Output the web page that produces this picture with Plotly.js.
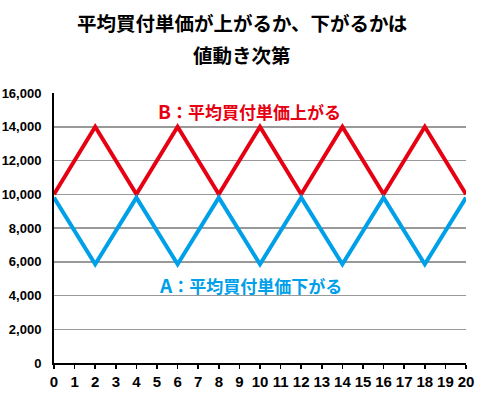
<!DOCTYPE html>
<html><head><meta charset="utf-8">
<script src="https://cdn.plot.ly/plotly-3.0.1.min.js"></script>
<style>html,body{margin:0;padding:0;background:#fff}</style>
</head><body><div id="chart" style="width:499px;height:396px"></div>
<script>
const xs = [0,1,2,3,4,5,6,7,8,9,10,11,12,13,14,15,16,17,18,19,20];
const bX = [0,2,4,6,8,10,12,14,16,18,20];
const bY = [10000,14000,10000,14000,10000,14000,10000,14000,10000,14000,10000];
const aX = [0,2,4,6,8,10,12,14,16,18,20];
const aY = [9800,5850,9800,5850,9800,5850,9800,5850,9800,5850,9800];
const yTicks = [0,2000,4000,6000,8000,10000,12000,14000,16000];
const yTickText = ['0','2,000','4,000','6,000','8,000','10,000','12,000','14,000','16,000'];
const titleLines = ['平均買付単価が上がるか、下がるかは','値動き次第'];
const labelB = '<span style="font-size:19px">B</span>：平均買付単価上がる';
const labelA = '<span style="font-size:19px">A</span>：平均買付単価下がる';

const cjk = '"Noto Sans CJK JP", "Noto Sans", sans-serif';
const num = '"Liberation Sans Narrow", "Liberation Sans", Arial, sans-serif';

const traces = [
  {x:bX, y:bY, mode:'lines', line:{color:'#e60012', width:4}, hoverinfo:'skip'},
  {x:aX, y:aY, mode:'lines', line:{color:'#00a0e9', width:4}, hoverinfo:'skip'}
];
const layout = {
  width:499, height:396,
  margin:{l:54, r:33, t:93, b:33},
  showlegend:false,
  paper_bgcolor:'#fff', plot_bgcolor:'#fff',
  xaxis:{range:[0,20], tickvals:xs, ticktext:xs.map(String), tickangle:0, showgrid:false, zeroline:false,
    showline:true, linecolor:'#000', linewidth:2, ticks:'outside', ticklen:4, tickwidth:1.5, tickcolor:'#000',
    tickfont:{family:num, size:15, color:'#000', weight:'bold'}, fixedrange:true},
  yaxis:{range:[0,16000], tickvals:yTicks, ticktext:yTickText, showgrid:true, gridcolor:'#999', gridwidth:1.5,
    zeroline:false, showline:true, linecolor:'#000', linewidth:2, ticks:'', ticklabelstandoff:8,
    tickfont:{family:num, size:13, color:'#000', weight:'bold'}, fixedrange:true},
  annotations:[
    {xref:'paper', yref:'paper', x:(242-54)/412, y:1+(93-22)/270.6, text:titleLines[0], showarrow:false,
     font:{family:cjk, size:19.5, color:'#000', weight:'bold'}, xanchor:'center', yanchor:'middle'},
    {xref:'paper', yref:'paper', x:(242-54)/412, y:1+(93-54)/270.6, text:titleLines[1], showarrow:false,
     font:{family:cjk, size:19.5, color:'#000', weight:'bold'}, xanchor:'center', yanchor:'middle'},
    {x:9.5, y:14950, text:labelB, showarrow:false, font:{family:cjk, size:17, color:'#e60012', weight:'bold'}},
    {x:9.55, y:4630, text:labelA, showarrow:false, font:{family:cjk, size:17, color:'#00a0e9', weight:'bold'}}
  ]
};
Plotly.newPlot('chart', traces, layout, {displayModeBar:false, staticPlot:true});
</script></body></html>
